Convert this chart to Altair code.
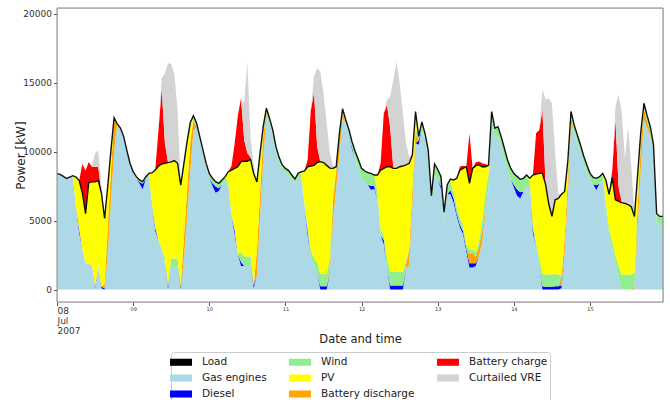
import altair as alt
import pandas as pd

# Hourly values from 2007-07-08 00:00, one row per day (kW)
load_by_day = [
    [8400, 8350, 8200, 8050, 8150, 8250, 8150, 7900, 7000, 5500, 7750, 7800, 7800, 7900, 7000, 5150, 7500, 10100, 12450, 12000, 11700, 11100, 10100, 9150],
    [8540, 8180, 7940, 7820, 8180, 8420, 8470, 8660, 8950, 9100, 9150, 9200, 9250, 9340, 9150, 7570, 9150, 10720, 12100, 12600, 12050, 11080, 10120, 9150],
    [8420, 8060, 7820, 7700, 7940, 8180, 8540, 8660, 8780, 8900, 9270, 9300, 9300, 9440, 8400, 7800, 9870, 11800, 13140, 12400, 11570, 10360, 9580, 9030],
    [8780, 8620, 8300, 8010, 8420, 8540, 8600, 8900, 8950, 9000, 9200, 9270, 9200, 9000, 8800, 8780, 8900, 11300, 13100, 12300, 11600, 10700, 10000, 9400],
    [8780, 8590, 8470, 8420, 8300, 8300, 8660, 8780, 8900, 8900, 8780, 8780, 8900, 8950, 9030, 9150, 9750, 12900, 11100, 12150, 11300, 10100, 6800, 9100],
    [8700, 8200, 5600, 7600, 8000, 7940, 8060, 8660, 8780, 8900, 7700, 8780, 8980, 9030, 8900, 8900, 9000, 12900, 11690, 11800, 11080, 10240, 9390, 8800],
    [8400, 8200, 8000, 8060, 8300, 8060, 8300, 8370, 8420, 8420, 7600, 6200, 5300, 6500, 6600, 6900, 7110, 9300, 12900, 11930, 11200, 10480, 9680, 9030],
    [8420, 8130, 8060, 8180, 8420, 7940, 6900, 8100, 6500, 6400, 6300, 6250, 6150, 6000, 5300, 8300, 11400, 13500, 12600, 11800, 10500, 5500, 5300, 5300],
]
gas_by_day = [
    [8400, 8350, 8200, 8050, 8150, 8150, 6000, 4100, 2950, 1900, 1850, 1800, 100, 1650, 100, 0, 2600, 6400, 10000, 12000, 11700, 11100, 10100, 9150],
    [8400, 8030, 7690, 7270, 8030, 8150, 6090, 4200, 3580, 2980, 1900, 50, 1650, 1650, 1650, 0, 2180, 5350, 8540, 11500, 11750, 10800, 9850, 8900],
    [8120, 7510, 7020, 7150, 7590, 7880, 7450, 5280, 4000, 2600, 1700, 1700, 1700, 1700, 100, 1060, 5280, 9500, 12600, 12050, 11220, 10000, 9250, 8700],
    [8450, 8300, 7980, 7700, 8100, 8100, 6000, 3950, 2370, 1650, 1200, 0, 0, 0, 1200, 5000, 7400, 9800, 12400, 12000, 11250, 10150, 9500, 8800],
    [8080, 7790, 7570, 7220, 7300, 6500, 3900, 3300, 1700, 0, 0, 0, 0, 0, 1500, 1800, 6120, 10600, 10500, 11750, 10900, 9600, 6300, 8300],
    [8000, 7300, 5100, 6900, 6900, 6300, 5300, 4500, 4000, 2800, 1600, 1600, 1700, 2500, 3400, 5500, 7400, 12300, 11000, 11100, 10380, 9540, 8690, 8000],
    [7400, 6800, 6600, 7100, 7500, 7500, 4100, 3000, 1800, 0, 0, 0, 0, 0, 0, 100, 2660, 6730, 12000, 11430, 10700, 9980, 9180, 8530],
    [7920, 7630, 7210, 7680, 7900, 5900, 3900, 3000, 2000, 700, 0, 0, 0, 0, 0, 4500, 8800, 12300, 11700, 11100, 10100, 4900, 4700, 4700],
]
diesel_by_day = [
    [0, 0, 0, 0, 0, 0, 0, 250, 0, 0, 0, 0, 100, 0, 100, 100, 0, 0, 0, 0, 0, 0, 0, 0],
    [0, 0, 100, 400, 0, 0, 0, 250, 0, 0, 0, 150, 0, 0, 0, 150, 0, 0, 0, 0, 0, 0, 0, 0],
    [0, 200, 450, 200, 0, 0, 0, 0, 300, 0, 300, 0, 0, 0, 200, 0, 0, 0, 0, 0, 0, 0, 0, 0],
    [0, 0, 0, 0, 0, 0, 0, 300, 0, 0, 0, 250, 250, 250, 0, 0, 0, 0, 0, 0, 0, 150, 0, 0],
    [0, 0, 0, 300, 200, 0, 0, 300, 0, 300, 300, 300, 300, 300, 0, 0, 0, 0, 300, 0, 0, 0, 0, 0],
    [0, 200, 0, 0, 300, 300, 200, 200, 200, 200, 300, 300, 200, 0, 0, 0, 0, 0, 0, 0, 0, 0, 0, 0],
    [200, 450, 450, 0, 0, 0, 300, 0, 0, 250, 200, 200, 200, 250, 250, 200, 0, 0, 0, 0, 0, 0, 0, 0],
    [0, 0, 350, 0, 0, 0, 0, 0, 0, 0, 0, 0, 0, 0, 0, 0, 0, 0, 0, 0, 0, 0, 0, 0],
]
battery_discharge_by_day = [
    [0, 0, 0, 0, 0, 0, 0, 0, 0, 0, 0, 0, 0, 0, 0, 300, 1900, 2200, 2300, 0, 0, 0, 0, 0],
    [0, 0, 0, 0, 0, 0, 0, 0, 0, 0, 0, 0, 0, 0, 0, 100, 1620, 1850, 2130, 800, 0, 0, 0, 0],
    [0, 0, 0, 0, 0, 0, 0, 0, 0, 0, 0, 0, 0, 0, 0, 1740, 1740, 1600, 200, 0, 0, 0, 0, 0],
    [0, 0, 0, 0, 0, 0, 0, 0, 0, 0, 0, 0, 0, 0, 400, 1500, 1200, 1200, 400, 0, 0, 0, 0, 0],
    [0, 0, 0, 0, 0, 0, 0, 0, 0, 0, 0, 0, 0, 0, 300, 1100, 1090, 730, 0, 0, 0, 0, 0, 0],
    [0, 0, 0, 0, 0, 0, 0, 0, 0, 0, 700, 800, 500, 600, 800, 300, 0, 0, 0, 0, 0, 0, 0, 0],
    [0, 0, 0, 0, 0, 0, 0, 0, 0, 0, 0, 0, 0, 0, 0, 600, 1000, 1200, 500, 0, 0, 0, 0, 0],
    [0, 0, 0, 0, 0, 0, 0, 0, 0, 0, 0, 0, 0, 0, 200, 1500, 1700, 800, 500, 300, 0, 0, 0, 0],
]
wind_by_day = [
    [0, 0, 0, 0, 0, 0, 0, 0, 0, 0, 0, 0, 0, 0, 0, 0, 0, 0, 0, 0, 0, 0, 0, 0],
    [140, 150, 150, 150, 150, 150, 150, 0, 0, 0, 400, 200, 600, 600, 600, 0, 0, 0, 0, 300, 300, 280, 270, 250],
    [300, 350, 350, 350, 350, 300, 250, 250, 0, 0, 700, 700, 700, 700, 200, 0, 0, 300, 340, 350, 350, 360, 330, 330],
    [330, 320, 320, 310, 320, 300, 300, 300, 500, 600, 800, 900, 900, 900, 800, 300, 300, 300, 300, 300, 350, 400, 500, 600],
    [700, 800, 900, 900, 800, 600, 500, 300, 600, 1000, 1000, 1000, 1000, 1000, 300, 0, 0, 300, 300, 400, 400, 500, 500, 800],
    [700, 700, 500, 700, 600, 500, 500, 500, 400, 300, 300, 200, 300, 400, 800, 1200, 1000, 600, 690, 700, 700, 700, 700, 800],
    [800, 950, 950, 960, 800, 300, 300, 400, 500, 900, 900, 900, 900, 900, 800, 200, 0, 300, 400, 500, 500, 500, 500, 500],
    [500, 500, 500, 500, 400, 400, 500, 500, 500, 1000, 1100, 1100, 1100, 1100, 1000, 400, 400, 400, 400, 400, 400, 600, 600, 600],
]
pv_by_day = [
    [0, 0, 0, 0, 0, 100, 2150, 3550, 4050, 3600, 5900, 6000, 7600, 6250, 6800, 4750, 3000, 1500, 150, 0, 0, 0, 0, 0],
    [0, 0, 0, 0, 0, 120, 2230, 4210, 5370, 6120, 6850, 8800, 7000, 7090, 6900, 7320, 5350, 3520, 1430, 0, 0, 0, 0, 0],
    [0, 0, 0, 0, 0, 0, 840, 3130, 4480, 6300, 6570, 6900, 6900, 7040, 7900, 5000, 2850, 400, 0, 0, 0, 0, 0, 0],
    [0, 0, 0, 0, 0, 140, 2300, 4350, 6080, 6750, 7200, 8120, 8050, 7850, 6400, 1980, 0, 0, 0, 0, 0, 0, 0, 0],
    [0, 0, 0, 0, 0, 1200, 4260, 4880, 6600, 7600, 7480, 7480, 7600, 7650, 6930, 6250, 2540, 1270, 0, 0, 0, 0, 0, 0],
    [0, 0, 0, 0, 200, 840, 2060, 3460, 4180, 5600, 4800, 5880, 6280, 5530, 3900, 1900, 600, 0, 0, 0, 0, 0, 0, 0],
    [0, 0, 0, 0, 0, 260, 3600, 4970, 6120, 7270, 6500, 5100, 4200, 5350, 5550, 5800, 3450, 1070, 0, 0, 0, 0, 0, 0],
    [0, 0, 0, 0, 120, 1640, 2500, 4600, 4000, 4700, 5200, 5150, 5050, 4900, 4100, 1900, 500, 0, 0, 0, 0, 0, 0, 0],
]
battery_charge_by_day = [
    [0, 0, 0, 0, 0, 0, 0, 0, 2100, 3100, 1500, 1100, 1100, 1000, 0, 0, 0, 0, 0, 0, 0, 0, 0, 0],
    [0, 0, 0, 0, 0, 0, 0, 100, 2650, 5500, 1470, 0, 0, 0, 0, 0, 0, 0, 0, 0, 0, 0, 0, 0],
    [0, 0, 0, 0, 0, 0, 0, 300, 1800, 3700, 4600, 1540, 570, 150, 0, 0, 0, 0, 0, 0, 0, 0, 0, 0],
    [0, 0, 0, 0, 0, 0, 0, 500, 4050, 5300, 1160, 0, 0, 0, 0, 0, 0, 0, 0, 0, 0, 0, 0, 0],
    [0, 0, 0, 0, 0, 0, 500, 4000, 4480, 2900, 0, 0, 0, 0, 0, 0, 0, 0, 0, 0, 0, 0, 0, 0],
    [0, 0, 0, 0, 0, 0, 0, 250, 200, 0, 3600, 0, 250, 250, 250, 200, 0, 0, 0, 0, 0, 0, 0, 0],
    [0, 0, 0, 0, 0, 0, 0, 2960, 3150, 4600, 0, 0, 0, 0, 0, 0, 0, 0, 0, 0, 0, 0, 0, 0],
    [0, 0, 0, 0, 0, 0, 0, 500, 5800, 1050, 0, 0, 0, 0, 0, 0, 0, 0, 0, 0, 0, 0, 0, 0],
]
curtailed_by_day = [
    [0, 0, 0, 0, 0, 0, 0, 0, 0, 0, 0, 0, 1000, 1200, 500, 0, 0, 0, 0, 0, 0, 0, 0, 0],
    [0, 0, 0, 0, 0, 0, 0, 0, 0, 700, 5060, 7200, 7100, 6220, 3870, 0, 0, 0, 0, 0, 0, 0, 0, 0],
    [0, 0, 0, 0, 0, 0, 0, 0, 0, 0, 0, 2660, 6600, 1400, 600, 0, 0, 0, 0, 0, 0, 0, 0, 0],
    [0, 0, 0, 0, 0, 0, 0, 0, 0, 1140, 5680, 6530, 5030, 3050, 1070, 200, 0, 0, 0, 0, 0, 0, 0, 0],
    [0, 0, 0, 0, 0, 0, 0, 0, 360, 2190, 6420, 7750, 6060, 3830, 1570, 480, 0, 0, 0, 0, 0, 0, 0, 0],
    [0, 0, 0, 0, 0, 0, 0, 0, 0, 0, 0, 0, 0, 0, 0, 0, 0, 0, 0, 0, 0, 0, 0, 0],
    [0, 0, 0, 0, 0, 0, 0, 0, 0, 1480, 6150, 7670, 8200, 3370, 370, 0, 0, 0, 0, 0, 0, 0, 0, 0],
    [0, 0, 0, 0, 0, 0, 0, 0, 970, 6660, 6480, 3250, 5650, 3000, 200, 0, 0, 0, 0, 0, 0, 0, 0, 0],
]

day_labels = ["08", "09", "10", "11", "12", "13", "14", "15"]
first_label = ["08", "Jul", "2007"]
y_ticks = [0, 2500, 5000, 7500, 10000, 12500, 15000, 17500, 20000]

# stacking order (bottom -> top)
stack_series = [
    ("Gas engines", gas_by_day),
    ("Diesel", diesel_by_day),
    ("Battery discharge", battery_discharge_by_day),
    ("Wind", wind_by_day),
    ("PV", pv_by_day),
    ("Battery charge", battery_charge_by_day),
    ("Curtailed VRE", curtailed_by_day),
]
colors = {
    "Load": "#000000",
    "Gas engines": "#add8e6",
    "Diesel": "#0000ff",
    "Wind": "#90ee90",
    "PV": "#ffff00",
    "Battery discharge": "#ffa500",
    "Battery charge": "#ff0000",
    "Curtailed VRE": "#d3d3d3",
}
legend_order = ["Load", "Gas engines", "Diesel", "Wind", "PV",
                "Battery discharge", "Battery charge", "Curtailed VRE"]


def flat(days):
    return [v for d in days for v in d]


load = flat(load_by_day)
hours = list(range(len(load)))

rows = []
for rank, (name, days) in enumerate(stack_series):
    for h, v in zip(hours, flat(days)):
        rows.append({"hour": h, "series": name, "kW": v, "rank": rank})
df = pd.DataFrame(rows)
load_df = pd.DataFrame({"hour": hours, "kW": load})

label_expr = (
    "datum.value == 0 ? " + str(first_label) + " : "
    + str(day_labels) + "[floor(datum.value / 24)]"
)

x_enc = alt.X(
    "hour:Q",
    scale=alt.Scale(domain=[0, len(load) - 1], nice=False, zero=False),
    axis=alt.Axis(
        values=[24 * i for i in range(len(day_labels))],
        labelExpr=label_expr,
        labelFontSize={"condition": {"test": "datum.value == 0", "value": 9}, "value": 5},
        labelLineHeight=10,
        labelPadding=1,
        labelColor="#333",
        tickSize=3.5,
        tickColor="#555",
        domain=False,
        grid=False,
        title="Date and time",
        titleFontSize=11.5,
        titleFontWeight="normal",
        titleColor="#222",
        titleY=37,
        titleBaseline="middle",
    ),
)
y_enc = alt.Y(
    "kW:Q",
    stack="zero",
    scale=alt.Scale(domain=[-900, 20400], nice=False, zero=False),
    axis=alt.Axis(
        values=y_ticks,
        format="d",
        labelFontSize=9,
        labelColor="#333",
        labelPadding=2,
        tickSize=3.5,
        tickColor="#555",
        domain=False,
        grid=False,
        title="Power [kW]",
        titleFontSize=12,
        titleFontWeight="normal",
        titleColor="#222",
        titleX=-37,
        titleBaseline="middle",
    ),
)

areas = alt.Chart(df).mark_area(interpolate="linear").encode(
    x=x_enc,
    y=y_enc,
    color=alt.Color(
        "series:N",
        scale=alt.Scale(domain=legend_order, range=[colors[n] for n in legend_order]),
        legend=alt.Legend(
            title=None,
            orient="none",
            legendX=114,
            legendY=344,
            columns=3,
            symbolType="M-1.4,-0.45L1.4,-0.45L1.4,0.45L-1.4,0.45Z",
            symbolSize=247,
            symbolStrokeWidth=0,
            labelFontSize=10.5,
            labelColor="#222",
            labelOffset=13,
            columnPadding=21,
            rowPadding=2,
            padding=2,
            strokeColor="#cccccc",
            cornerRadius=3,
            fillColor="white",
        ),
    ),
    order=alt.Order("rank:Q", sort="ascending"),
)

load_line = alt.Chart(load_df).mark_line(color="#111111", strokeWidth=1.4).encode(
    x=alt.X("hour:Q", title="Date and time"),
    y=alt.Y("kW:Q", title="Power [kW]"),
)

frame = alt.Chart(pd.DataFrame({"f": [0]})).mark_rect(
    fillOpacity=0, stroke="#888888", strokeWidth=1
).encode(x=alt.value(0), x2=alt.value(606), y=alt.value(0), y2=alt.value(294))

chart = (
    alt.layer(areas, load_line, frame)
    .properties(
        width=606,
        height=294,
        padding={"left": 57, "top": 8, "right": 7, "bottom": 98},
        autosize=alt.AutoSizeParams(type="none"),
    )
    .configure_view(strokeWidth=0)
    .configure(font="DejaVu Sans")
    .configure_axis(labelFont="DejaVu Sans", titleFont="DejaVu Sans")
    .configure_legend(labelFont="DejaVu Sans")
)

chart.save("out.html", embed_options={"renderer": "svg", "actions": False})
